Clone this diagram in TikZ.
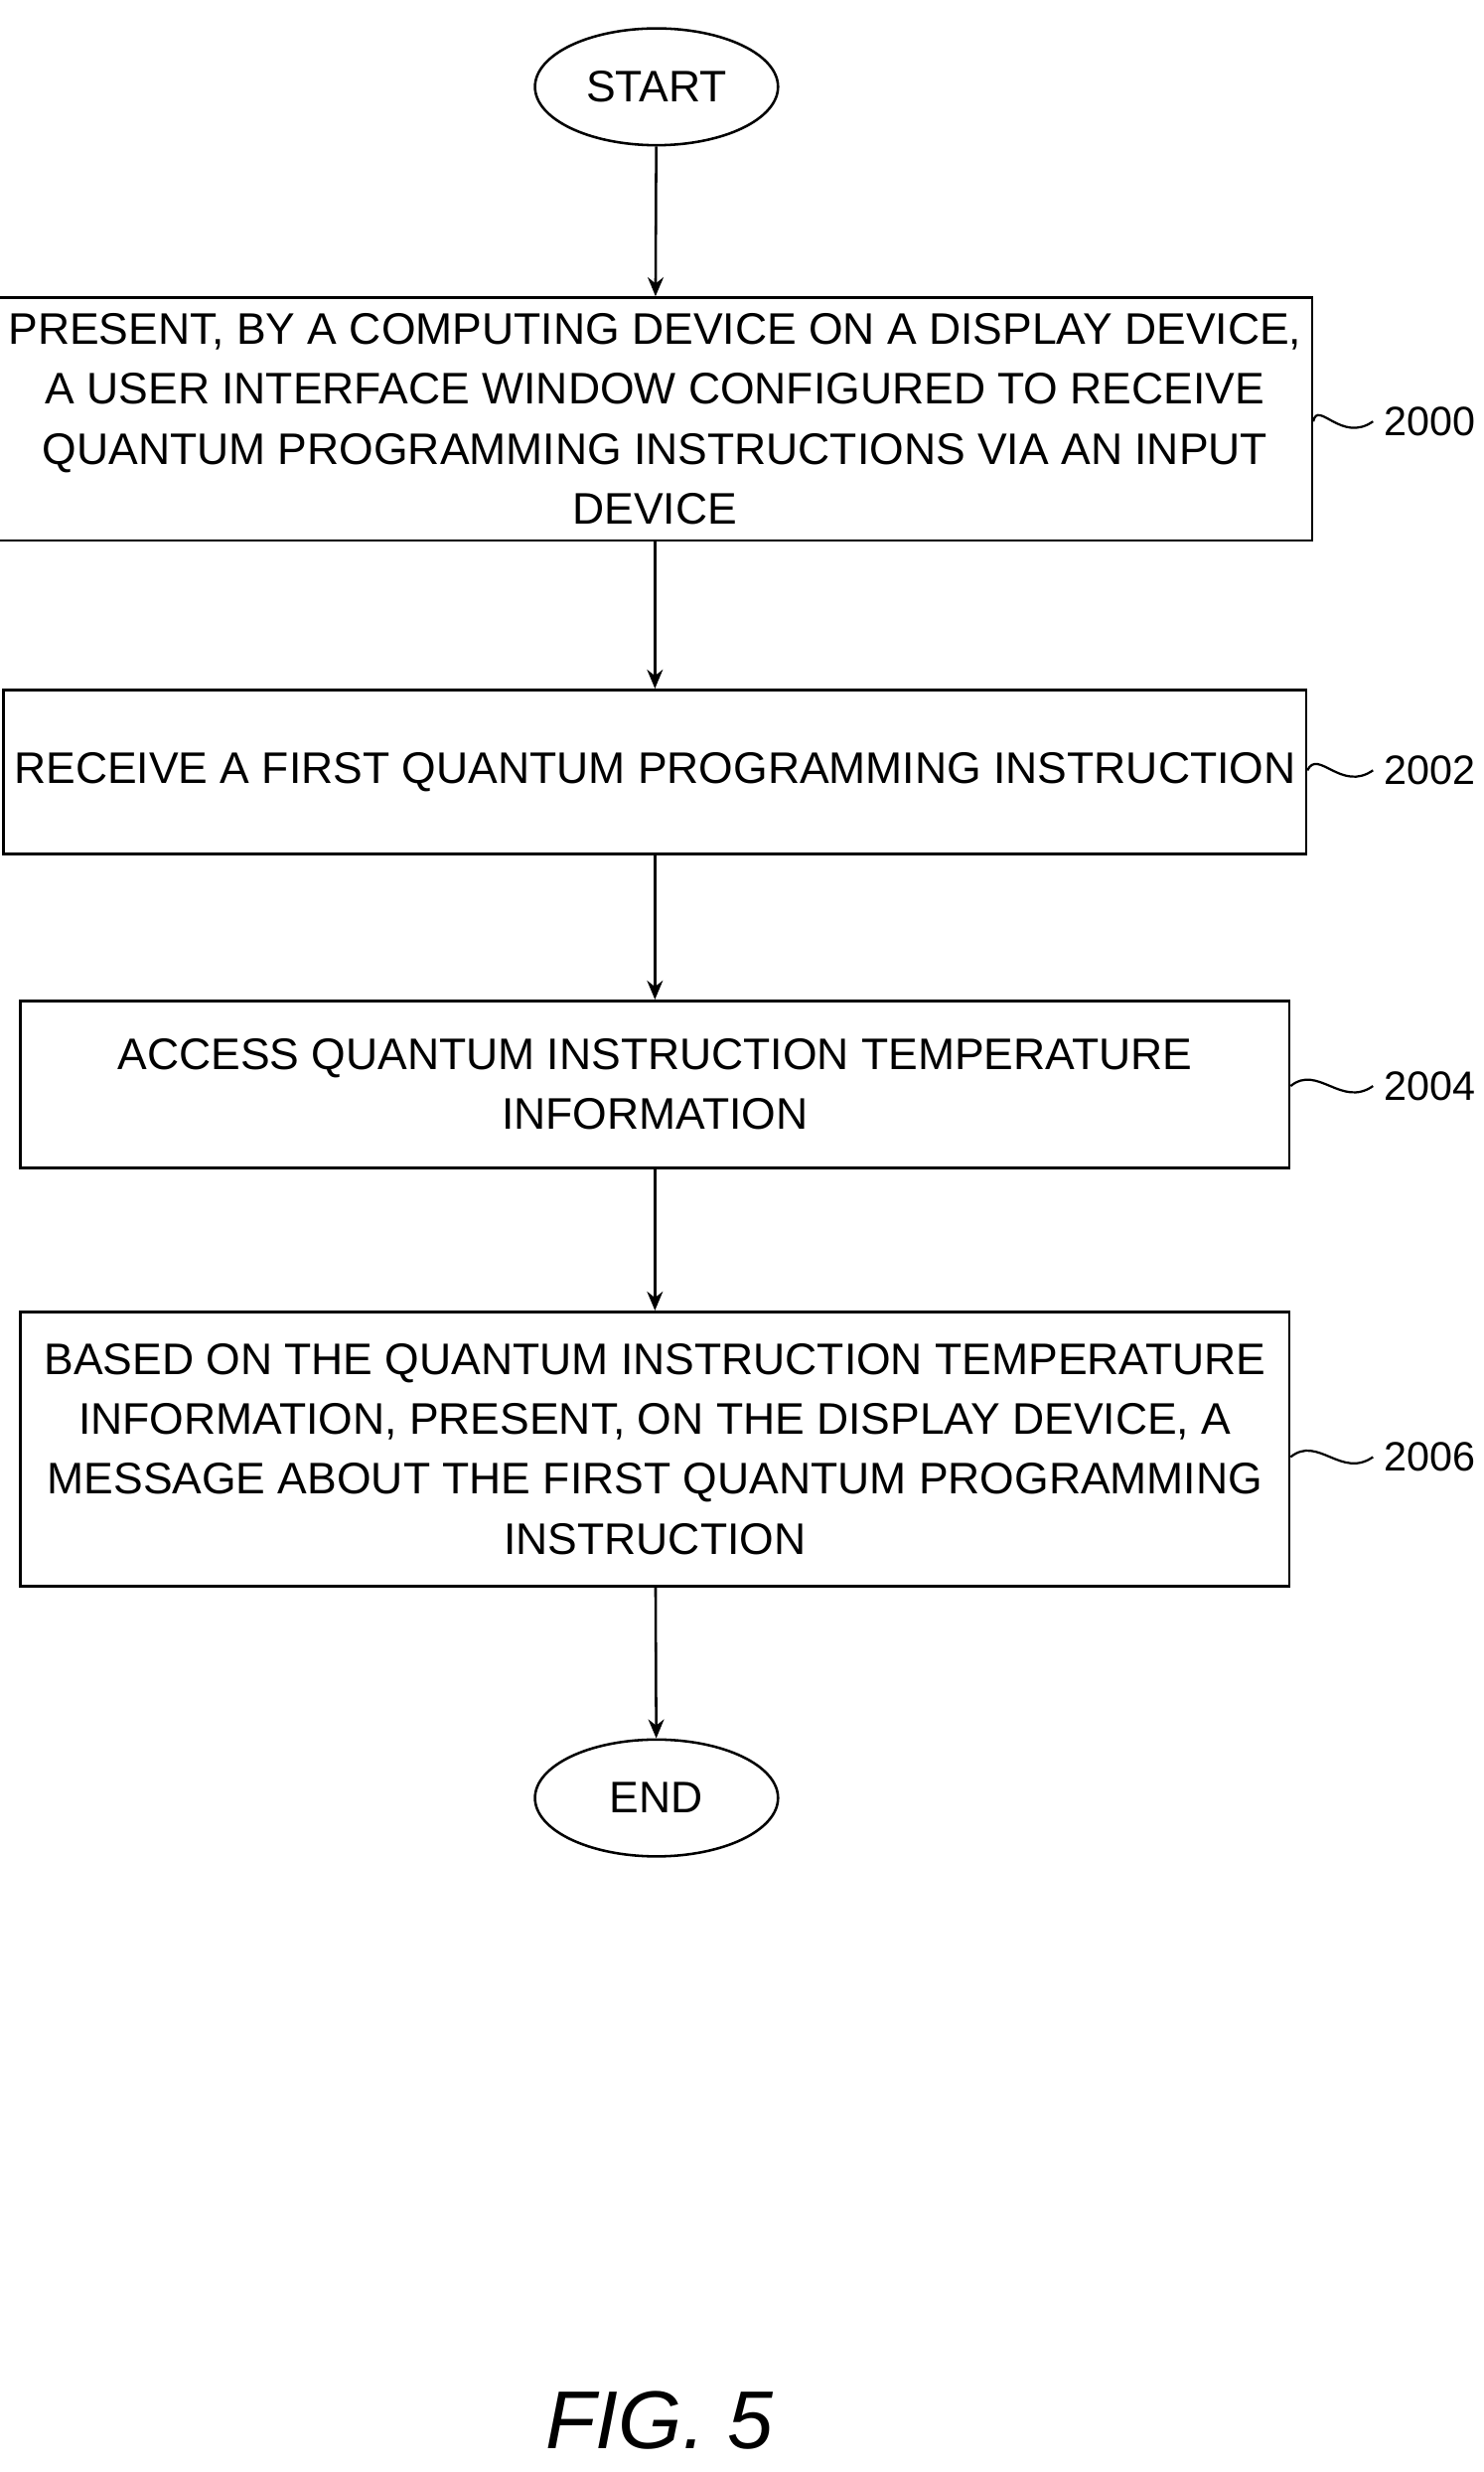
\documentclass[tikz,border=0pt]{standalone}
\usepackage{fontspec}
\setmainfont{Liberation Sans}
\usetikzlibrary{positioning,arrows.meta,shapes.geometric}

\begin{document}
\begin{tikzpicture}[
		x=0.5pt,y=-0.5pt,
		> = {Stealth[length=6pt,width=5pt]},
		box/.style = {draw,line width=0.8pt,minimum width=402pt,align=center,font=\fontsize{14}{19}\selectfont},
		term/.style = {draw,ellipse,line width=0.8pt,minimum width=77pt,minimum height=37pt,font=\fontsize{14}{17}\selectfont},
		ref/.style = {font=\fontsize{13}{15}\selectfont,anchor=west}
		]
		\useasboundingbox (0,0) rectangle (940,1566);
		\node[term] (start) at (416,55) {START};
		\node[box,minimum height=77pt] (s2000) at (415,265.5) {PRESENT, BY A COMPUTING DEVICE ON A DISPLAY DEVICE,\\A USER INTERFACE WINDOW CONFIGURED TO RECEIVE\\QUANTUM PROGRAMMING INSTRUCTIONS VIA AN INPUT\\DEVICE};
		\node[box,minimum height=52pt] (s2002) at (415,489) {RECEIVE A FIRST QUANTUM PROGRAMMING INSTRUCTION};
		\node[box,minimum height=53pt] (s2004) at (415,687) {ACCESS QUANTUM INSTRUCTION TEMPERATURE\\INFORMATION};
		\node[box,minimum height=87pt] (s2006) at (415,918) {BASED ON THE QUANTUM INSTRUCTION TEMPERATURE\\INFORMATION, PRESENT, ON THE DISPLAY DEVICE, A\\MESSAGE ABOUT THE FIRST QUANTUM PROGRAMMING\\INSTRUCTION};
		\node[term] (end) at (416,1139) {END};
		% arrows
		\draw[->,line width=0.8pt] (start) -- (s2000);
		\draw[->,line width=0.8pt] (s2000) -- (s2002);
		\draw[->,line width=0.8pt] (s2002) -- (s2004);
		\draw[->,line width=0.8pt] (s2004) -- (s2006);
		\draw[->,line width=0.8pt] (s2006) -- (end);
		% reference numerals
		\foreach \n/\y in {2000/267,2002/488,2004/688,2006/923}{
			\node[ref] (l\n) at (870,\y) {\n};
			\draw[line width=0.7pt] (s\n.east |- 0,\y) .. controls (835,\y-14) and (850,\y+14) .. (l\n.west);
		}
		\node[font=\fontsize{26}{30}\selectfont\itshape] (fig) at (418,1533) {FIG. 5};
	\end{tikzpicture}
\end{document}
